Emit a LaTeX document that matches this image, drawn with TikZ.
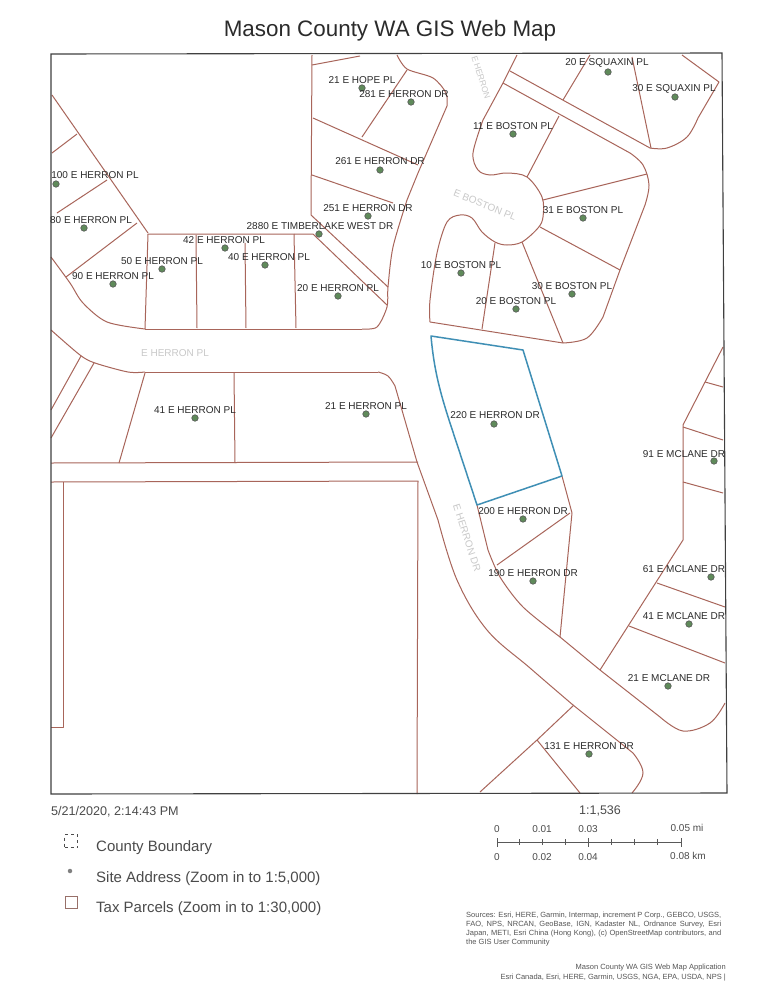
\documentclass[tikz,border=0pt]{standalone}
\usepackage{fontspec}
\setmainfont{Liberation Sans}
\definecolor{parcel}{HTML}{A8655A}
\definecolor{sel}{HTML}{3F8FB5}
\definecolor{dotc}{HTML}{5F8A5A}
\definecolor{ink}{HTML}{2B2B2B}
\definecolor{faint}{HTML}{C9C9C9}
\newcommand{\jline}[1]{\makebox[255pt][s]{#1}}
\tikzset{
 pc/.style={draw=parcel,line width=1pt,line join=round},
 selbox/.style={draw=sel,line width=1.5pt,line join=round},
 frameline/.style={draw=black!75,line width=1.1pt},
 addr/.style={font=\fontsize{10}{12}\selectfont,text=ink,inner sep=0pt},
 dotn/.style={circle,fill=dotc,draw=black!65,line width=0.6pt,minimum size=6.5pt,inner sep=0pt},
 road/.style={font=\fontsize{10}{12}\selectfont,text=faint,inner sep=0pt},
 leg/.style={font=\fontsize{15}{17}\selectfont,text=ink!85,inner sep=0pt,anchor=west},
 scl/.style={font=\fontsize{10}{12}\selectfont,text=ink!85,inner sep=0pt},
 tick/.style={draw=black!65,line width=0.8pt},
 cred/.style={font=\fontsize{7.5}{9}\selectfont,text=ink!80,inner sep=0pt},
}
\begin{document}
\begin{tikzpicture}[x=1pt,y=-1pt]
\useasboundingbox[fill=white] (0,0) rectangle (779,1007);
\node[font=\fontsize{22.4}{27}\selectfont,text=ink,inner sep=0pt] (title) at (390,31) {Mason County WA GIS Web Map};

% parcels, upper left block
\draw[pc] (312,55) -- (311,215) -- (388,287);
\draw[pc] (312,65) -- (360,56);
\draw[pc] plot[smooth,tension=.5] coordinates {(397,55) (407,69) (433,78) (446,93) (447,106)};
\draw[pc] (447,106) -- (418,173) -- (407,200);
\draw[pc] plot[smooth,tension=.5] coordinates {(407,200) (393,247) (388,287) (387,307) (377,327) (362,329)};
\draw[pc] (362,329) -- (145,329);
\draw[pc] (407,70) -- (362,137);
\draw[pc] (313,118) -- (418,165);
\draw[pc] (312,175) -- (393,203);
\draw[pc] (148,234) -- (313,234) -- (387,305);
\draw[pc] (148,234) -- (145,329);
\draw[pc] (196,235) -- (197,328);
\draw[pc] (245,243) -- (246,328);
\draw[pc] (294,234) -- (296,328);
\draw[pc] (52,95) -- (148,233);
\draw[pc] (52,153) -- (77,134);
\draw[pc] (57,213) -- (107,180);
\draw[pc] (66,277) -- (137,223);
\draw[pc] plot[smooth,tension=.5] coordinates {(51,257) (70,283) (83,303) (107,322) (145,329)};

% below E Herron Pl
\draw[pc] plot[smooth,tension=.5] coordinates {(51,330) (80,355) (95,363) (128,372) (145,372)};
\draw[pc] (145,372) -- (378,372);
\draw[pc] plot[smooth,tension=.6] coordinates {(378,372) (388,376) (395,386)};
\draw[pc] (395,386) -- (417,462) -- (438,520);
\draw[pc] plot[smooth,tension=.6] coordinates {(438,520) (457,580) (487,630) (530,668) (573,705)};
\draw[pc] (573,705) -- (633,753);
\draw[pc] plot[smooth,tension=.7] coordinates {(633,753) (643,773) (632,793)};
\draw[pc] (81,356) -- (51,410);
\draw[pc] (94,363) -- (51,438);
\draw[pc] (145,373) -- (119,463);
\draw[pc] (234,372) -- (235,463);
\draw[pc] (51,463) -- (418,462);
\draw[pc] (51,482) -- (418,481) -- (417,794);
\draw[pc] (51,727) -- (63,727) -- (63,482);

% upper right block
\draw[pc] (517,55) -- (503,83) -- (483,120);
\draw[pc] plot[smooth,tension=.55] coordinates {(483,120) (473,153) (478,170) (490,175) (507,173) (527,177) (542,197) (543,217) (538,228) (522,242) (507,245) (495,242) (482,232) (472,218) (460,215) (447,222) (437,253) (430,300) (430,322)};
\draw[pc] (430,322) -- (563,343);
\draw[pc] (510,71) -- (650,148);
\draw[pc] (503,83) -- (630,153);
\draw[pc] plot[smooth,tension=.6] coordinates {(630,153) (643,165) (649,185) (645,205)};
\draw[pc] (645,205) -- (620,270) -- (603,317);
\draw[pc] plot[smooth,tension=.6] coordinates {(603,317) (587,338) (563,343)};
\draw[pc] plot[smooth,tension=.6] coordinates {(650,148) (667,148) (687,137) (698,118)};
\draw[pc] (698,118) -- (719,82) -- (682,55);
\draw[pc] (590,55) -- (563,100);
\draw[pc] (632,57) -- (651,148);
\draw[pc] (559,116) -- (527,177);
\draw[pc] (543,200) -- (647,174);
\draw[pc] (540,227) -- (620,270);
\draw[pc] (522,242) -- (563,343);
\draw[pc] (495,243) -- (482,329);

% lower right
\draw[pc] (477,505) -- (488,550);
\draw[pc] plot[smooth,tension=.5] coordinates {(488,550) (500,577) (523,607) (560,637)};
\draw[pc] (560,637) -- (600,670) -- (660,717);
\draw[pc] plot[smooth,tension=.6] coordinates {(660,717) (683,731) (710,723) (725,703)};
\draw[pc] (562,476) -- (572,513) -- (560,637);
\draw[pc] (570,513) -- (497,565);
\draw[pc] (600,670) -- (683,540) -- (683,425) -- (723,347);
\draw[pc] (705,382) -- (723,387);
\draw[pc] (683,427) -- (723,440);
\draw[pc] (683,482) -- (723,493);
\draw[pc] (657,583) -- (725,607);
\draw[pc] (629,626) -- (725,663);
\draw[pc] (574,705) -- (537,740) -- (480,792);
\draw[pc] (537,740) -- (580,793);

% selected parcel
\draw[selbox] (431,336) -- (523,350) -- (562,476) -- (477,505) -- (450,423) .. controls (440,392) and (434,370) .. cycle;

% road labels
\node[road] (rd1) at (175,353) {E HERRON PL};
\node[road,rotate=-22] (rd2) at (485,205) {E BOSTON PL};
\node[road,rotate=-72] (rd3) at (467,538) {E HERRON DR};
\node[road,font=\fontsize{8.5}{10}\selectfont,rotate=-72,anchor=west] (rd4) at (474,56) {E HERRON};

% map frame
\draw[frameline] (51,54) -- (722,53) -- (727,793) -- (51,794) -- cycle;

% address points
\foreach \n/\dx/\dy/\lx/\ly/\t in {
 a1/362/88/362/80/21 E HOPE PL,
 a2/411/102/404/94/281 E HERRON DR,
 a3/380/170/380/161/261 E HERRON DR,
 a4/368/216/368/208/251 E HERRON DR,
 a5/319/234/320/226/2880 E TIMBERLAKE WEST DR,
 a6/225/248/224/240/42 E HERRON PL,
 a7/265/265/269/257/40 E HERRON PL,
 a8/162/269/162/261/50 E HERRON PL,
 a9/113/284/113/276/90 E HERRON PL,
 a10/338/296/338/288/20 E HERRON PL,
 a11/56/184/95/175/100 E HERRON PL,
 a12/84/228/91/220/80 E HERRON PL,
 a13/195/418/195/410/41 E HERRON PL,
 a14/366/414/366/406/21 E HERRON PL,
 a15/608/72/607/63/20 E SQUAXIN PL,
 a16/675/97/674/89/30 E SQUAXIN PL,
 a17/513/134/513/126/11 E BOSTON PL,
 a18/583/218/583/210/31 E BOSTON PL,
 a19/461/273/461/265/10 E BOSTON PL,
 a20/572/294/572/286/30 E BOSTON PL,
 a21/516/309/516/301/20 E BOSTON PL,
 a22/494/424/495/415/220 E HERRON DR,
 a23/523/519/523/511/200 E HERRON DR,
 a24/533/581/533/573/190 E HERRON DR,
 a25/714/461/684/454/91 E MCLANE DR,
 a26/711/577/684/569/61 E MCLANE DR,
 a27/689/624/684/616/41 E MCLANE DR,
 a28/668/686/669/678/21 E MCLANE DR,
 a29/589/754/589/746/131 E HERRON DR} {
 \node[dotn] (d\n) at (\dx,\dy) {};
 \node[addr] (l\n) at (\lx,\ly) {\t};
}

% date and legend
\node[font=\fontsize{12.6}{15}\selectfont,text=ink!85,inner sep=0pt,anchor=west] (date) at (51,812) {5/21/2020, 2:14:43 PM};
\node[draw=black!70,dashed,line width=0.9pt,minimum size=13pt,inner sep=0pt] (s1) at (71,841) {};
\node[circle,fill=black!50,minimum size=4.5pt,inner sep=0pt] (s2) at (70,871) {};
\node[draw=parcel!60!gray,line width=0.9pt,minimum size=12pt,inner sep=0pt] (s3) at (71,902) {};
\node[leg] (t1) at (96,848) {County Boundary};
\node[leg] (t2) at (96,879) {Site Address (Zoom in to 1:5,000)};
\node[leg] (t3) at (96,909) {Tax Parcels (Zoom in to 1:30,000)};

% scale
\node[font=\fontsize{12.5}{14}\selectfont,text=ink!85,inner sep=0pt] (ratio) at (600,811) {1:1,536};
\node[scl] (m0) at (497,829) {0};
\node[scl] (m1) at (542,829) {0.01};
\node[scl] (m2) at (588,829) {0.03};
\node[scl] (m3) at (687,828) {0.05 mi};
\node[scl] (k0) at (497,857) {0};
\node[scl] (k1) at (542,857) {0.02};
\node[scl] (k2) at (588,857) {0.04};
\node[scl] (k3) at (688,856) {0.08 km};
\coordinate (b0) at (497,842);
\coordinate (b1) at (681,842);
\draw[tick] (b0) -- (b1);
\foreach \x in {497,588,681} \draw[tick] (\x,838) -- (\x,847);
\foreach \x in {519,542,565,611,634,657} \draw[tick] (\x,839) -- (\x,845);

% credits
\node[cred,anchor=west] (src1) at (466,916) {\jline{Sources: Esri, HERE, Garmin, Intermap, increment P Corp., GEBCO, USGS,}};
\node[cred,anchor=west] (src2) at (466,925) {\jline{FAO, NPS, NRCAN, GeoBase, IGN, Kadaster NL, Ordnance Survey, Esri}};
\node[cred,anchor=west] (src3) at (466,934) {\jline{Japan, METI, Esri China (Hong Kong), (c) OpenStreetMap contributors, and}};
\node[cred,anchor=west] (src4) at (466,943) {the GIS User Community};
\node[cred,anchor=east] (app) at (726,968) {Mason County WA GIS Web Map Application};
\node[cred,anchor=east] (esri) at (726,978) {Esri Canada, Esri, HERE, Garmin, USGS, NGA, EPA, USDA, NPS |};
\end{tikzpicture}
\end{document}
